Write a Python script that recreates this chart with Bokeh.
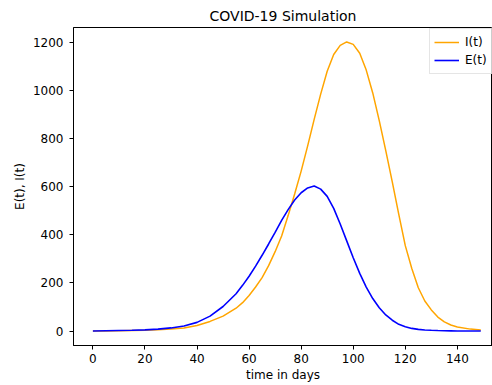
from bokeh.plotting import figure
from bokeh.models import Range1d, Legend, LegendItem
from bokeh.embed import file_html
from bokeh.resources import INLINE

# ---- data ----
t_days = [0, 5, 10, 15, 20, 25, 30, 35, 40, 45, 50, 55, 57.5, 60, 62.5,
          65, 67.5, 70, 72.5, 75, 77.5, 80, 82.5, 85, 87.5, 90, 92.5, 95,
          97.5, 100, 102.5, 105, 107.5, 110, 112.5, 115, 117.5, 120, 122.5,
          125, 127.5, 130, 132.5, 135, 137.5, 140, 145, 149]

e_vals = [0, 1, 2, 3, 5, 8, 13, 21, 36, 62, 102, 155, 190, 228, 270,
          315, 362, 410, 460, 505, 545, 575, 595, 603, 590, 560, 510, 445,
          375, 305, 240, 183, 135, 97, 67, 45, 28, 18, 11,
          7, 4.5, 3, 2, 1.2, 0.8, 0.5, 0.2, 0.1]

i_vals = [0, 0.5, 1, 2, 3, 5, 8, 13, 23, 40, 62, 95, 118, 148, 183,
          222, 272, 330, 395, 480, 570, 665, 770, 880, 985, 1080, 1150, 1188,
          1202, 1192, 1155, 1085, 990, 875, 750, 620, 485, 355, 260,
          180, 125, 88, 58, 38, 25, 17, 8, 4]

x_ticks = [0, 20, 40, 60, 80, 100, 120, 140]
y_ticks = [0, 200, 400, 600, 800, 1000, 1200]

FONT = "DejaVu Sans"

p = figure(width=492, height=385, output_backend="svg", toolbar_location=None,
           x_range=Range1d(-7.45, 153.5), y_range=Range1d(-60.1, 1262.1),
           min_border_left=73, min_border_right=0, min_border_top=27,
           min_border_bottom=40)

p.background_fill_color = "white"
p.border_fill_color = "white"
p.outline_line_color = "black"
p.outline_line_width = 1
p.grid.visible = False

p.title.text = "COVID-19 Simulation"
p.title.text_font = FONT
p.title.text_font_size = "14px"
p.title.text_font_style = "normal"
p.title.text_color = "black"
p.title.align = "center"
p.title.offset = 4
p.title.standoff = 7

for ax in (p.xaxis, p.yaxis):
    ax.major_tick_out = 4
    ax.major_tick_in = 0
    ax.minor_tick_line_color = None
    ax.major_tick_line_color = "black"
    ax.axis_line_color = "black"
    ax.major_label_text_font = FONT
    ax.major_label_text_font_size = "12px"
    ax.major_label_text_color = "black"
    ax.axis_label_text_font = FONT
    ax.axis_label_text_font_size = "12px"
    ax.axis_label_text_font_style = "normal"
    ax.axis_label_text_color = "black"

p.xaxis.ticker = x_ticks
p.yaxis.ticker = y_ticks
p.xaxis.axis_label = "time in days"
p.yaxis.axis_label = "E(t), I(t)"
p.xaxis.major_label_standoff = 4
p.xaxis.axis_label_standoff = 2
p.yaxis.major_label_standoff = 6
p.yaxis.axis_label_standoff = 3

r_i = p.line(t_days, i_vals, line_color="orange", line_width=1.5)
r_e = p.line(t_days, e_vals, line_color="blue", line_width=1.6)

legend = Legend(items=[LegendItem(label="I(t)", renderers=[r_i]),
                       LegendItem(label="E(t)", renderers=[r_e])],
                location=(356, 271))
legend.label_text_font = FONT
legend.label_text_font_size = "12px"
legend.label_text_color = "black"
legend.glyph_width = 25
legend.glyph_height = 18
legend.label_height = 18
legend.label_standoff = 6
legend.padding = 4
legend.spacing = 0
legend.margin = 0
legend.border_line_color = "#cccccc"
legend.border_line_width = 1
legend.background_fill_alpha = 0.8
p.add_layout(legend)

open("out.html", "w").write(file_html(p, INLINE))
